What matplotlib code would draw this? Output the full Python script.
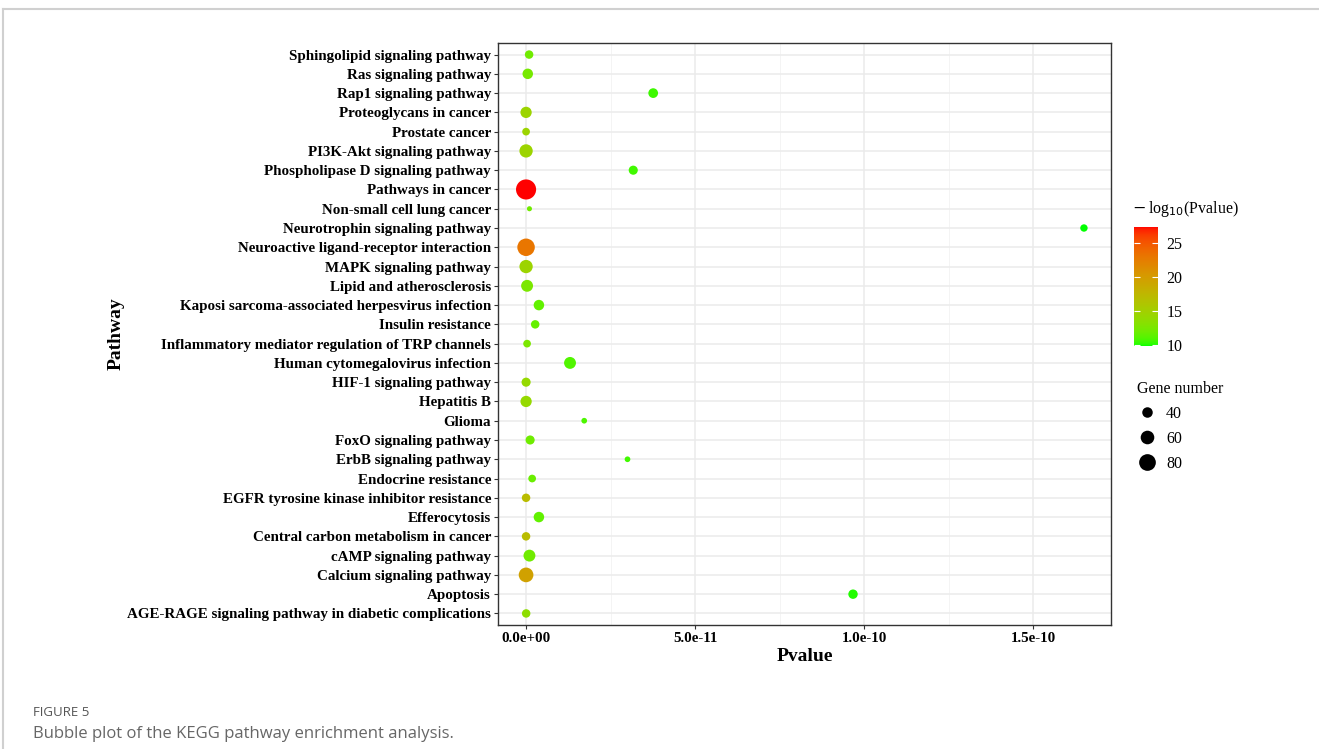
import matplotlib.pyplot as plt
import numpy as np
from matplotlib.colors import ListedColormap
from matplotlib.lines import Line2D

# pathways, bottom to top
pathways = ["AGE-RAGE signaling pathway in diabetic complications", "Apoptosis",
            "Calcium signaling pathway", "cAMP signaling pathway",
            "Central carbon metabolism in cancer", "Efferocytosis",
            "EGFR tyrosine kinase inhibitor resistance", "Endocrine resistance",
            "ErbB signaling pathway", "FoxO signaling pathway", "Glioma", "Hepatitis B",
            "HIF-1 signaling pathway", "Human cytomegalovirus infection",
            "Inflammatory mediator regulation of TRP channels", "Insulin resistance",
            "Kaposi sarcoma-associated herpesvirus infection", "Lipid and atherosclerosis",
            "MAPK signaling pathway", "Neuroactive ligand-receptor interaction",
            "Neurotrophin signaling pathway", "Non-small cell lung cancer",
            "Pathways in cancer", "Phospholipase D signaling pathway", "PI3K-Akt signaling pathway",
            "Prostate cancer", "Proteoglycans in cancer", "Rap1 signaling pathway",
            "Ras signaling pathway", "Sphingolipid signaling pathway"]
pvalue = [3e-14, 9.67e-11, 3e-20, 1e-12, 1e-17, 3.8e-12, 1e-17, 1.8e-12, 3.0e-11, 1.2e-12,
          1.72e-11, 1e-14, 1e-14, 1.3e-11, 3e-13, 2.7e-12, 3.8e-12, 3e-13, 3e-15, 1e-23,
          1.65e-10, 1e-12, 4e-28, 3.17e-11, 3e-15, 3e-15, 3e-15, 3.76e-11, 5e-13, 9e-13]
gene_number = [27, 33, 67, 49, 27, 40, 27, 22, 9, 31, 9, 45, 31, 49, 22, 27, 40, 49, 58, 85,
               20, 5, 102, 31, 58, 22, 45, 35, 40, 27]
legend_sizes = [40, 60, 80]
cbar_ticks = [10, 15, 20, 25]


def srgb_to_lab(c):
    c = np.asarray(c, float)
    lin = np.where(c <= 0.04045, c / 12.92, ((c + 0.055) / 1.055) ** 2.4)
    m = np.array([[0.4124, 0.3576, 0.1805], [0.2126, 0.7152, 0.0722], [0.0193, 0.1192, 0.9505]])
    xyz = m @ lin / np.array([0.95047, 1.0, 1.08883])
    f = np.where(xyz > 0.008856, np.cbrt(xyz), 7.787 * xyz + 16 / 116)
    return np.array([116 * f[1] - 16, 500 * (f[0] - f[1]), 200 * (f[1] - f[2])])


def lab_to_srgb(lab):
    fy = (lab[0] + 16) / 116
    f = np.array([fy + lab[1] / 500, fy, fy - lab[2] / 200])
    xyz = np.where(f ** 3 > 0.008856, f ** 3, (f - 16 / 116) / 7.787) * np.array([0.95047, 1.0, 1.08883])
    minv = np.array([[3.2406, -1.5372, -0.4986], [-0.9689, 1.8758, 0.0415], [0.0557, -0.2040, 1.0570]])
    lin = np.clip(minv @ xyz, 0, 1)
    c = np.where(lin <= 0.0031308, 12.92 * lin, 1.055 * lin ** (1 / 2.4) - 0.055)
    return np.clip(c, 0, 1)


# green -> red, interpolated in Lab like ggplot
lo, hi = srgb_to_lab([0, 1, 0]), srgb_to_lab([1, 0, 0])
cmap = ListedColormap([lab_to_srgb(lo + t * (hi - lo)) for t in np.linspace(0, 1, 256)])


def bubble(n):
    d = 4.3 + 0.155 * np.asarray(n, float)
    return (d * 0.72) ** 2


plt.rcParams['font.family'] = ['Liberation Serif', 'DejaVu Serif']
fig = plt.figure(figsize=(13.19, 7.49), dpi=100)
ax = fig.add_axes([498 / 1319, 1 - 625 / 749, 613 / 1319, 582 / 749])

logp = -np.log10(pvalue)
y = np.arange(len(pathways))
sc = ax.scatter(pvalue, y, s=bubble(gene_number), c=logp, cmap=cmap,
                vmin=logp.min(), vmax=logp.max(), linewidths=0, zorder=3)

ax.set_ylim(-0.6, len(pathways) - 0.4)
ax.set_xlim(-8.3e-12, 1.73e-10)
ax.set_yticks(y)
ax.set_yticklabels(pathways, fontweight='bold', fontsize=10.8)
ax.set_xticks([0, 5e-11, 1e-10, 1.5e-10])
ax.set_xticklabels(["0.0e+00", "5.0e-11", "1.0e-10", "1.5e-10"], fontweight='bold', fontsize=10.8)
ax.set_xticks([2.5e-11, 7.5e-11, 1.25e-10], minor=True)
ax.grid(True, which='major', color='#EBEBEB', linewidth=1.1, zorder=0)
ax.grid(True, which='minor', axis='x', color='#F2F2F2', linewidth=0.6, zorder=0)
ax.set_axisbelow(True)
for s in ax.spines.values():
    s.set_color('#333333')
    s.set_linewidth(1.0)
ax.tick_params(which='major', color='#333333', length=3, pad=2)
ax.tick_params(which='minor', length=0)
ax.set_xlabel('Pvalue', fontweight='bold', fontsize=14, labelpad=2)
ax.set_ylabel('Pathway', fontweight='bold', fontsize=14, labelpad=1.5)

# colour bar
cax = fig.add_axes([1134 / 1319, 1 - 346 / 749, 24 / 1319, 119 / 749])
cb = fig.colorbar(sc, cax=cax, ticks=cbar_ticks)
cb.outline.set_visible(False)
cax.yaxis.set_ticks_position('both')
cax.tick_params(direction='in', color='white', length=4, width=0.8, labelsize=11.5, pad=6,
                labelright=True, labelleft=False)
fig.text(1132 / 1319, 1 - 209 / 749, r'$-\,$log$_{10}$(Pvalue)', fontsize=11.5, va='center', ha='left')

# size legend
handles = [Line2D([], [], marker='o', linestyle='', color='black', markeredgewidth=0,
                  markersize=np.sqrt(bubble(n))) for n in legend_sizes]
leg = fig.legend(handles, [str(n) for n in legend_sizes], title='Gene number', loc='upper left',
                 bbox_to_anchor=(1126 / 1319, 1 - 370 / 749), frameon=False, fontsize=11.5,
                 title_fontsize=11.5, labelspacing=0.55, handlelength=1.2, handletextpad=0.6,
                 borderpad=0.2)
leg._legend_box.align = 'left'

# page frame and caption
fig.add_artist(Line2D([3 / 1319, 1], [1 - 9 / 749, 1 - 9 / 749], transform=fig.transFigure,
                      color='#D0D0D0', linewidth=1.5))
fig.add_artist(Line2D([3 / 1319, 3 / 1319], [0, 1 - 9 / 749], transform=fig.transFigure,
                      color='#D0D0D0', linewidth=1.5))
fig.text(33 / 1319, 1 - 712 / 749, 'FIGURE 5', fontsize=9.5, color='#555555',
         family='Open Sans', va='center')
fig.text(33 / 1319, 1 - 734 / 749, 'Bubble plot of the KEGG pathway enrichment analysis.',
         fontsize=12, color='#666666', family='Open Sans', va='center')

fig.savefig('out.png', dpi=100)
